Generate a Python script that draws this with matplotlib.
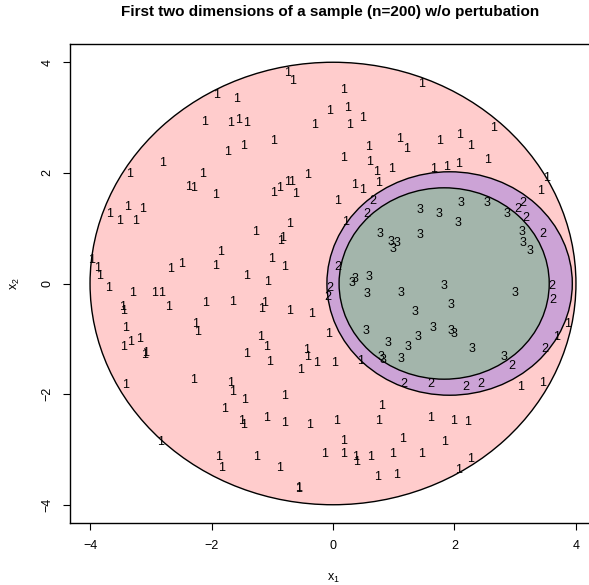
import matplotlib
matplotlib.use('Agg')
import matplotlib.pyplot as plt
from matplotlib.patches import Circle

plt.rcParams['font.family'] = 'Liberation Sans'
plt.rcParams['mathtext.fontset'] = 'custom'
plt.rcParams['mathtext.rm'] = 'Liberation Sans'
plt.rcParams['mathtext.default'] = 'regular'

# class 1 (outer region)
x_c1 = [-1.91, -1.59, -2.12, -1.68, -1.55, -1.42, -1.74, -1.47, -2.80, -3.35,
        -2.15, -2.38, -2.30, -1.94, -3.38, -3.13, -3.68, -3.51, -3.25, -0.75,
        -0.66, 0.17, -0.06, 0.24, 0.48, -0.31, 0.27, -0.98, 0.58, 1.10,
        1.21, 0.17, 0.61, 0.72, 0.97, -0.42, -0.98, -0.88, -0.75, -0.68,
        -0.61, 0.36, 0.49, 0.75, 0.08, 1.46, 2.64, 1.76, 2.08, 2.26,
        2.54, 1.66, 1.87, 2.06, 3.51, 3.42, -1.85, -2.67, -2.50, -1.93,
        -1.43, -3.97, -3.88, -3.84, -3.69, -3.30, -2.94, -2.83, -3.47, -3.45,
        -2.70, -2.09, -1.65, -2.26, -2.23, -3.42, -3.45, -3.33, -3.19, -3.11,
        -3.08, -1.43, 0.21, -1.27, -0.71, -0.86, -0.83, -1.01, -0.80, -1.07,
        -1.17, -1.12, -0.71, -0.36, -0.07, -1.20, -1.09, -0.44, -0.42, -0.27,
        0.02, -1.04, 0.46, 3.86, 3.68, -3.41, -2.30, -1.68, -1.66, -1.45,
        -1.78, -1.50, -1.48, -2.84, -1.89, -1.83, -0.54, -0.80, 0.80, -1.09,
        -0.80, -0.38, 0.06, 0.75, 0.17, 1.14, -1.26, -0.14, 0.17, 0.37,
        0.38, 0.62, 0.98, -0.88, 0.73, 1.05, -0.57, -0.565, 3.08, 3.45,
        1.60, 1.98, 2.21, 1.83, 1.46, 2.06, 2.27]
y_c1 = [3.41, 3.34, 2.92, 2.90, 2.95, 2.90, 2.37, 2.49, 2.17, 1.98,
        1.98, 1.74, 1.73, 1.60, 1.39, 1.35, 1.25, 1.13, 1.13, 3.80,
        3.66, 3.50, 3.11, 3.17, 2.99, 2.87, 2.87, 2.57, 2.46, 2.62,
        2.43, 2.26, 2.19, 2.01, 2.07, 1.96, 1.63, 1.72, 1.83, 1.83,
        1.62, 1.78, 1.69, 1.81, 1.49, 3.60, 2.82, 2.58, 2.69, 2.49,
        2.24, 2.07, 2.10, 2.16, 1.90, 1.68, 0.57, 0.27, 0.35, 0.31,
        0.14, 0.43, 0.28, 0.13, -0.08, -0.17, -0.17, -0.17, -0.42, -0.49,
        -0.42, -0.35, -0.33, -0.74, -0.87, -0.80, -1.14, -1.05, -1.00, -1.29,
        -1.26, -1.27, 1.11, 0.94, 1.07, 0.76, 0.83, 0.45, 0.30, 0.03,
        -0.46, -0.35, -0.49, -0.55, -0.91, -0.97, -1.14, -1.20, -1.32, -1.44,
        -1.44, -1.42, -1.40, -0.73, -0.97, -1.83, -1.75, -1.79, -1.97, -2.10,
        -2.27, -2.49, -2.56, -2.86, -3.14, -3.34, -1.56, -2.04, -2.22, -2.43,
        -2.53, -2.55, -2.49, -2.49, -2.85, -2.82, -3.13, -3.09, -3.09, -3.14,
        -3.23, -3.14, -3.08, -3.34, -3.49, -3.46, -3.71, -3.70, -1.87, -1.79,
        -2.43, -2.49, -2.50, -2.86, -3.08, -3.37, -3.18]

# class 2 (ring)
x_c2 = [0.66, 0.56, 0.08, -0.05, -0.09, 3.12, 3.05, 3.18, 3.46, 3.60,
        3.62, 3.49, 2.94, 1.16, 1.61, 2.19, 2.43]
y_c2 = [1.49, 1.25, 0.30, -0.08, -0.24, 1.45, 1.35, 1.19, 0.90, -0.05,
        -0.29, -1.18, -1.50, -1.81, -1.81, -1.87, -1.81]

# class 3 (inner disc)
x_c3 = [2.10, 2.54, 1.44, 1.75, 2.05, 2.86, 3.11, 3.13, 3.25, 1.44,
        0.77, 0.95, 1.05, 0.99, 0.31, 0.36, 0.60, 0.56, 1.12, 1.82,
        3.00, 1.95, 1.35, 1.65, 1.95, 2.00, 1.40, 0.54, 0.90, 1.24,
        0.79, 0.83, 1.12, 2.29, 2.82]
y_c3 = [1.45, 1.45, 1.32, 1.25, 1.10, 1.25, 0.93, 0.73, 0.58, 0.88,
        0.90, 0.75, 0.73, 0.63, 0.00, 0.08, 0.12, -0.19, -0.17, -0.05,
        -0.18, -0.39, -0.51, -0.80, -0.85, -0.91, -0.97, -0.85, -1.07, -1.14,
        -1.32, -1.38, -1.36, -1.18, -1.33]

# regions: (centre x, centre y, radius)
outer = (0.0, 0.0, 4.0)
ring = (1.92, 0.0, 2.02)
inner = (1.83, 0.0, 1.73)

fig = plt.figure(figsize=(5.89, 5.85), dpi=100)
ax = fig.add_axes([70 / 589, 62 / 585, 526 / 589, 479 / 585])

ax.add_patch(Circle(outer[:2], outer[2], facecolor=(1, 0, 0, 0.2), edgecolor='black', lw=1))
ax.add_patch(Circle(ring[:2], ring[2], facecolor=(0, 0, 1, 0.2), edgecolor='black', lw=1))
ax.add_patch(Circle(inner[:2], inner[2], facecolor=(0, 1, 0, 0.2), edgecolor='black', lw=1))

for xs, ys, lab in [(x_c1, y_c1, '1'), (x_c2, y_c2, '2'), (x_c3, y_c3, '3')]:
    for x, y in zip(xs, ys):
        ax.text(x, y, lab, ha='center', va='center', fontsize=9)

ax.set_xlim(-4.33, 4.33)
ax.set_ylim(-4.33, 4.33)
ax.set_xticks([-4, -2, 0, 2, 4])
ax.set_yticks([-4, -2, 0, 2, 4])
ax.tick_params(length=5, width=0.8, pad=7, labelsize=9)
plt.setp(ax.get_yticklabels(), rotation=90, va='center')
for s in ax.spines.values():
    s.set_linewidth(1)

fig.text(330 / 589, 1 - 12 / 585, 'First two dimensions of a sample (n=200) w/o pertubation',
         ha='center', va='center', fontsize=11, fontweight='bold')
fig.text(333 / 589, 1 - 578 / 585, '$x_1$', ha='center', va='center', fontsize=9)
fig.text(15 / 589, 1 - 284 / 585, '$x_2$', ha='center', va='center', rotation=90, fontsize=9)

fig.savefig('out.png', dpi=100)
